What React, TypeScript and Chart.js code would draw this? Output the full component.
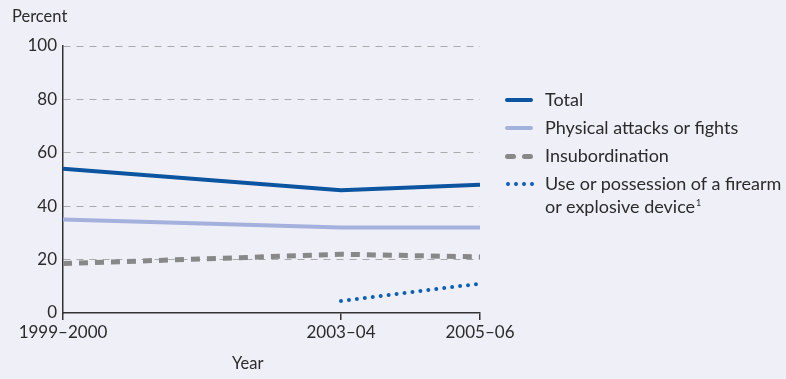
import React, { useEffect, useRef } from "react";
import { Chart, registerables } from "chart.js";

Chart.register(...registerables);

const years = [2000, 2004, 2006];
const yearLabels: Record<number, string> = { 2000: "1999–2000", 2004: "2003–04", 2006: "2005–06" };
const total = [54, 46, 48];
const physical = [35, 32, 32];
const insubordination = [18.5, 22, 21];
const firearm: (number | null)[] = [null, 4.5, 11];
const yTicks = [0, 20, 40, 60, 80, 100];

const FONT = "Lato, 'Open Sans', sans-serif";
const TEXT = "#2b2b2b";
const BG = "#efeff8";

const C_TOTAL = "#0b54a0";
const C_PHYS = "#a3b1dc";
const C_INSUB = "#888888";
const C_FIRE = "#0b5fb4";

export default function App() {
  const ref = useRef<HTMLCanvasElement>(null);
  useEffect(() => {
    document.body.style.margin = "0";
    const ctx = ref.current!;
    const mk = (ys: (number | null)[]) => years.map((x, i) => ({ x, y: ys[i] }));
    const chart = new Chart(ctx, {
      type: "line",
      data: {
        datasets: [
          { label: "Total", data: mk(total), borderColor: C_TOTAL, borderWidth: 4, pointRadius: 0 },
          { label: "Physical attacks or fights", data: mk(physical), borderColor: C_PHYS, borderWidth: 4, pointRadius: 0 },
          { label: "Insubordination", data: mk(insubordination), borderColor: C_INSUB, borderWidth: 5, borderDash: [9, 7], pointRadius: 0 },
          { label: "Use or possession of a firearm or explosive device", data: mk(firearm), borderColor: C_FIRE, borderWidth: 4, borderDash: [0, 8], borderCapStyle: "round", pointRadius: 0, spanGaps: false },
        ] as any,
      },
      options: {
        animation: false,
        responsive: false,
        maintainAspectRatio: false,
        layout: { padding: { top: 46, right: 306, left: 0, bottom: 0 } },
        plugins: { legend: { display: false }, tooltip: { enabled: false } },
        scales: {
          x: {
            type: "linear",
            min: 2000,
            max: 2006,
            afterBuildTicks: (s: any) => { s.ticks = years.map((v) => ({ value: v })); },
            afterFit: (s: any) => { s.height = 66; },
            ticks: {
              callback: (v: any) => yearLabels[v as number] ?? "",
              font: { family: FONT, size: 17 },
              color: TEXT,
              padding: 2,
              maxRotation: 0,
              autoSkip: false,
            },
            grid: { drawOnChartArea: false, drawTicks: true, tickLength: 7, color: "#333", lineWidth: 1.5 },
            border: { display: true, color: "#333", width: 1.5 },
          },
          y: {
            min: 0,
            max: 100,
            afterBuildTicks: (s: any) => { s.ticks = yTicks.map((v) => ({ value: v })); },
            afterFit: (s: any) => { s.width = 63; },
            ticks: { font: { family: FONT, size: 17 }, color: TEXT, padding: 6 },
            grid: {
              drawTicks: false,
              color: (c: any) => (c.tick && c.tick.value === 0 ? "rgba(0,0,0,0)" : "#aaaaaa"),
              lineWidth: 1,
            },
            border: { display: true, color: "#333", width: 1.5, dash: [7, 6] },
          },
        },
      },
    });
    return () => chart.destroy();
  }, []);

  const legendItems = [
    { label: "Total", color: C_TOTAL, style: "solid", w: 4 },
    { label: "Physical attacks or fights", color: C_PHYS, style: "solid", w: 4 },
    { label: "Insubordination", color: C_INSUB, style: "dashed", w: 5 },
    { label: "Use or possession of a firearm", color: C_FIRE, style: "dotted", w: 4 },
  ];
  const rowY = [100, 128, 156, 184];

  const sample = (it: any) => {
    if (it.style === "solid")
      return <div style={{ position: "absolute", left: 0, top: -2, width: 28, height: 4, background: it.color, borderRadius: 2 }} />;
    if (it.style === "dashed")
      return (
        <>
          <div style={{ position: "absolute", left: 0, top: -2.5, width: 11, height: 5, background: it.color, borderRadius: 2.5 }} />
          <div style={{ position: "absolute", left: 17, top: -2.5, width: 11, height: 5, background: it.color, borderRadius: 2.5 }} />
        </>
      );
    return (
      <>
        {[0, 8, 16, 24].map((dx) => (
          <div key={dx} style={{ position: "absolute", left: dx + 1, top: -2, width: 4, height: 4, background: it.color, borderRadius: 2 }} />
        ))}
      </>
    );
  };

  return (
    <div style={{ position: "fixed", left: 0, top: 0, width: 786, height: 379, background: BG, fontFamily: FONT, color: TEXT }}>
      <canvas ref={ref} width={786} height={379} style={{ position: "absolute", left: 0, top: 0 }} />
      <div style={{ position: "absolute", left: 12, top: 5, fontSize: 16.5, lineHeight: "22px" }}>Percent</div>
      <div style={{ position: "absolute", left: 232, top: 352, fontSize: 16.5, lineHeight: "22px" }}>Year</div>
      {legendItems.map((it, i) => (
        <div key={i} style={{ position: "absolute", left: 505, top: rowY[i], height: 0 }}>
          {sample(it)}
          <div style={{ position: "absolute", left: 40, top: -12, fontSize: 18, whiteSpace: "nowrap", lineHeight: "22px" }}>{it.label}</div>
        </div>
      ))}
      <div style={{ position: "absolute", left: 545, top: 195, fontSize: 18, whiteSpace: "nowrap", lineHeight: "22px" }}>
        or explosive device
        <span style={{ fontSize: 9, position: "relative", top: -7, marginLeft: 1 }}>1</span>
      </div>
    </div>
  );
}
